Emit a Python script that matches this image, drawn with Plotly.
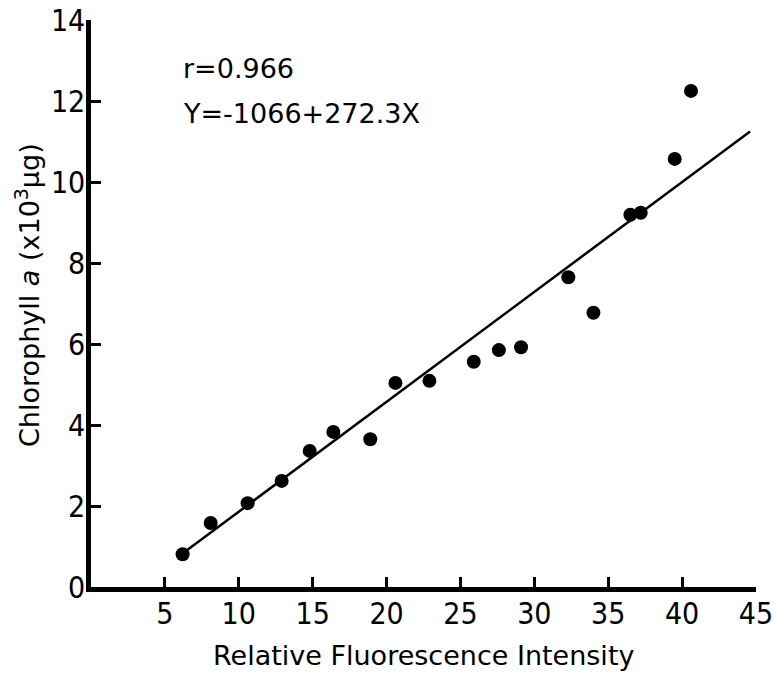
import plotly.graph_objects as go

# Measured points (relative fluorescence vs chlorophyll a, x10^3 ug)
fluorescence = [6.2, 8.1, 10.6, 12.9, 14.8, 16.4, 18.9, 20.6, 22.9, 25.9,
                27.6, 29.1, 32.3, 34.0, 36.5, 37.2, 39.5, 40.6]
chlorophyll = [0.81, 1.58, 2.07, 2.62, 3.36, 3.83, 3.65, 5.04, 5.09, 5.56,
               5.85, 5.92, 7.65, 6.77, 9.19, 9.24, 10.57, 12.25]

# Regression line as drawn
fit_x = [6.1, 44.6]
fit_y = [0.80, 11.25]

x_ticks = [5, 10, 15, 20, 25, 30, 35, 40, 45]
y_ticks = [0, 2, 4, 6, 8, 10, 12, 14]

TICK_FONT = "Liberation Sans Narrow, DejaVu Sans Condensed, Arial Narrow, sans-serif"
TEXT_FONT = "DejaVu Sans, Verdana, sans-serif"

fig = go.Figure()
fig.add_trace(go.Scatter(x=fit_x, y=fit_y, mode="lines",
                         line=dict(color="black", width=2.5), showlegend=False))
fig.add_trace(go.Scatter(x=fluorescence, y=chlorophyll, mode="markers",
                         marker=dict(color="black", size=14), showlegend=False))

fig.add_annotation(x=6.1, y=12.8, text="r=0.966", showarrow=False,
                   xanchor="left", font=dict(family=TEXT_FONT, size=27, color="black"))
fig.add_annotation(x=6.1, y=11.7, text="Y=-1066+272.3X", showarrow=False,
                   xanchor="left", font=dict(family=TEXT_FONT, size=27, color="black"))

# axis titles
fig.add_annotation(xref="paper", yref="paper", x=0.5, y=0, yshift=-68,
                   text="Relative Fluorescence Intensity", showarrow=False,
                   xanchor="center", yanchor="middle",
                   font=dict(family=TEXT_FONT, size=27, color="black"))
fig.add_annotation(xref="paper", yref="paper", x=0, y=0.515, xshift=-63,
                   text="Chlorophyll <i>a</i> (x10<sup>3</sup>μg)", showarrow=False,
                   textangle=-90, xanchor="center", yanchor="middle",
                   font=dict(family=TEXT_FONT, size=27, color="black"))

fig.update_xaxes(range=[0, 45], tickvals=x_ticks, ticks="inside", ticklen=10,
                 tickwidth=2.5, tickcolor="black", showline=True, linewidth=4.5,
                 linecolor="black", showgrid=False, zeroline=False,
                 automargin=False, ticklabelstandoff=-4,
                 tickfont=dict(family=TICK_FONT, size=30, color="black"))
fig.update_yaxes(range=[0, 14], tickvals=y_ticks, ticks="inside", ticklen=10,
                 tickwidth=2.5, tickcolor="black", showline=True, linewidth=4.5,
                 linecolor="black", showgrid=False, zeroline=False,
                 automargin=False, ticklabelstandoff=-5,
                 tickfont=dict(family=TICK_FONT, size=30, color="black"))

fig.update_layout(width=775, height=673, plot_bgcolor="white", paper_bgcolor="white",
                  margin=dict(l=91, r=19, t=20, b=86))

fig.write_html("out.html", config={"displayModeBar": False},
               post_script="document.body.style.margin='0px';")
